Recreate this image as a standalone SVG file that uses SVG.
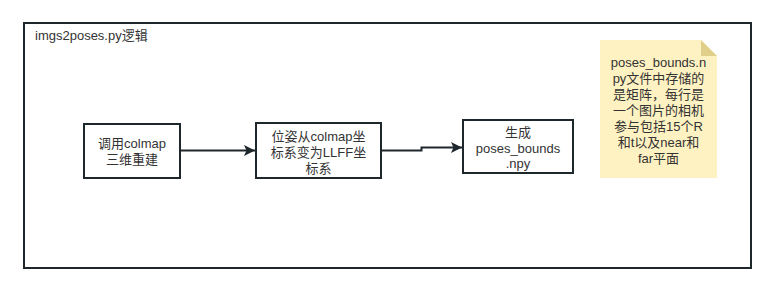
<svg xmlns="http://www.w3.org/2000/svg" width="776" height="294" viewBox="0 0 776 294">
<defs>
<style>
text{font-family:"Liberation Sans","Noto Sans CJK SC",sans-serif;font-size:13px;fill:#333;}
.c{text-anchor:middle;}
.box{fill:#fff;stroke:#1e272c;stroke-width:2;}
.edge{fill:none;stroke:#1e272c;stroke-width:2;}
</style>
<marker id="arr" markerWidth="12" markerHeight="12" refX="11" refY="6" orient="auto" markerUnits="userSpaceOnUse">
<path d="M0,0.5 L11,6 L0,11.5 L2.5,6 Z" fill="#1e272c"/>
</marker>
</defs>
<rect width="776" height="294" fill="#fff"/>
<g id="frame">
<rect x="24" y="23" width="727" height="245" fill="none" stroke="#1e272c" stroke-width="2"/>
<text x="35" y="40">imgs2poses.py逻辑</text>
</g>
<g id="connectors">
<path class="edge" d="M180,150.5 L255,150.5" marker-end="url(#arr)"/>
<path class="edge" d="M381,150.5 L421.5,150.5 L421.5,147.5 L462,147.5" marker-end="url(#arr)"/>
</g>
<g id="n1">
<rect class="box" x="84" y="124" width="96" height="54"/>
<text class="c" x="132" y="147.5">调用colmap</text>
<text class="c" x="132" y="163.5">三维重建</text>
</g>
<g id="n2">
<rect class="box" x="256" y="123" width="125" height="55"/>
<text class="c" x="318.5" y="140.5">位姿从colmap坐</text>
<text class="c" x="318.5" y="156.5">标系变为LLFF坐</text>
<text class="c" x="318.5" y="172.5">标系</text>
</g>
<g id="n3">
<rect class="box" x="463" y="120" width="110" height="53"/>
<text class="c" x="518" y="137">生成</text>
<text class="c" x="518" y="152.5">poses_bounds</text>
<text class="c" x="518" y="168">.npy</text>
</g>
<g id="note">
<path d="M600,40 L701,40 L717,56 L717,178 L600,178 Z" fill="#fff2c2"/>
<path d="M701,40 L717,56 L701,56 Z" fill="#e0cf8a"/>
<text class="c" x="658.5" y="67">poses_bounds.n</text>
<text class="c" x="658.5" y="83">py文件中存储的</text>
<text class="c" x="658.5" y="99">是矩阵，每行是</text>
<text class="c" x="658.5" y="115">一个图片的相机</text>
<text class="c" x="658.5" y="131">参与包括15个R</text>
<text class="c" x="658.5" y="147">和t以及near和</text>
<text class="c" x="658.5" y="163">far平面</text>
</g>
</svg>
